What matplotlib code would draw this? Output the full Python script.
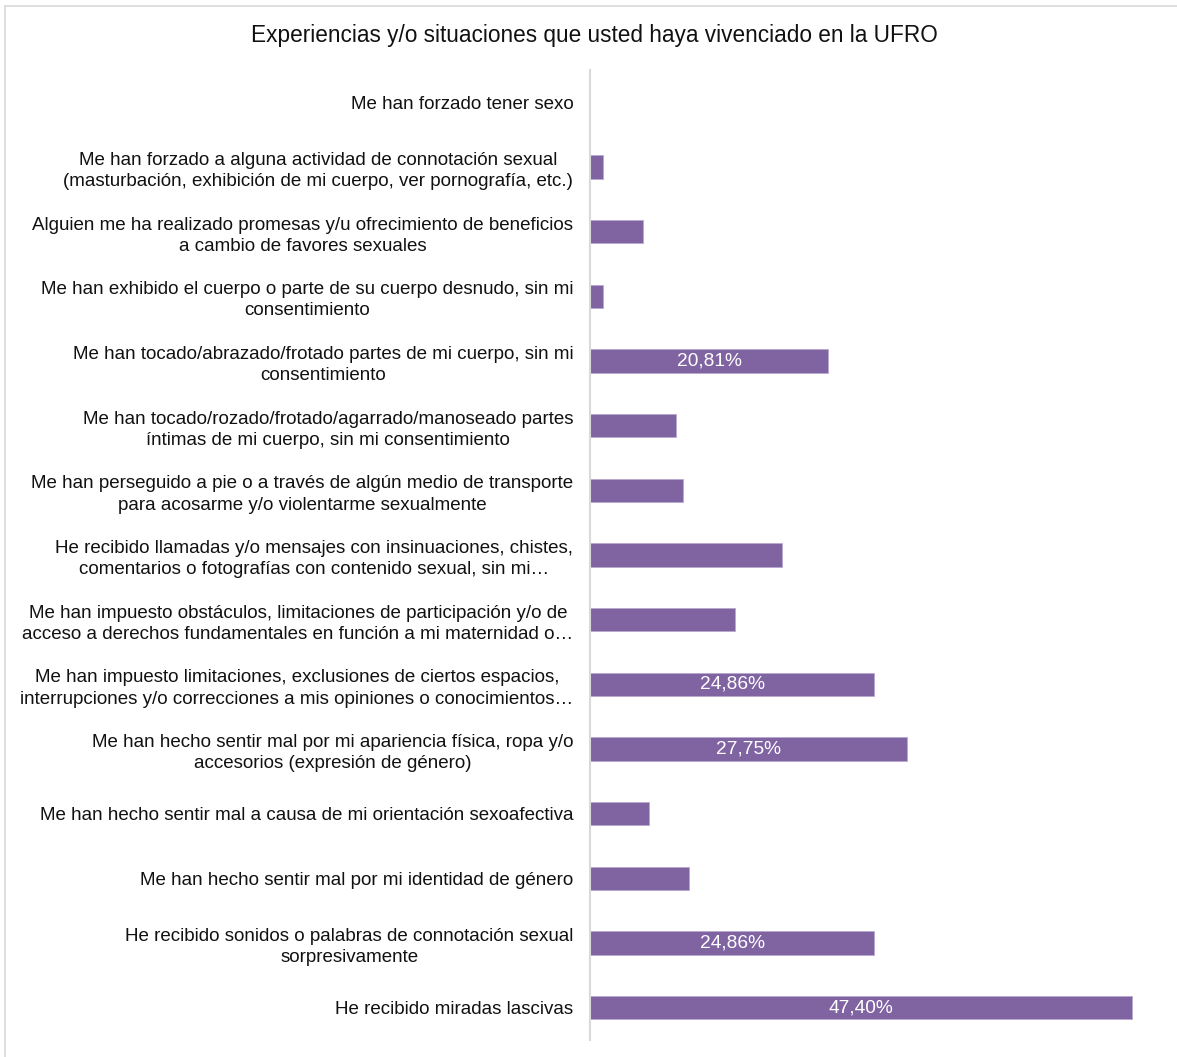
import matplotlib
matplotlib.use('Agg')
from matplotlib import pyplot as plt
from matplotlib.patches import Rectangle

# categories from top to bottom, percentage of respondents
categories = [
    "Me han forzado tener sexo",
    "Me han forzado a alguna actividad de connotación sexual\n(masturbación, exhibición de mi cuerpo, ver pornografía, etc.)",
    "Alguien me ha realizado promesas y/u ofrecimiento de beneficios\na cambio de favores sexuales",
    "Me han exhibido el cuerpo o parte de su cuerpo desnudo, sin mi\nconsentimiento",
    "Me han tocado/abrazado/frotado partes de mi cuerpo, sin mi\nconsentimiento",
    "Me han tocado/rozado/frotado/agarrado/manoseado partes\níntimas de mi cuerpo, sin mi consentimiento",
    "Me han perseguido a pie o a través de algún medio de transporte\npara acosarme y/o violentarme sexualmente",
    "He recibido llamadas y/o mensajes con insinuaciones, chistes,\ncomentarios o fotografías con contenido sexual, sin mi…",
    "Me han impuesto obstáculos, limitaciones de participación y/o de\nacceso a derechos fundamentales en función a mi maternidad o…",
    "Me han impuesto limitaciones, exclusiones de ciertos espacios,\ninterrupciones y/o correcciones a mis opiniones o conocimientos…",
    "Me han hecho sentir mal por mi apariencia física, ropa y/o\naccesorios (expresión de género)",
    "Me han hecho sentir mal a causa de mi orientación sexoafectiva",
    "Me han hecho sentir mal por mi identidad de género",
    "He recibido sonidos o palabras de connotación sexual\nsorpresivamente",
    "He recibido miradas lascivas",
]
values = [0.0, 1.16, 4.62, 1.16, 20.81, 7.51, 8.09, 16.76, 12.72,
          24.86, 27.75, 5.20, 8.67, 24.86, 47.40]
labelled = [4, 9, 10, 13, 14]  # bars that carry a value label

plt.rcParams['font.family'] = ['Liberation Sans', 'DejaVu Sans']

fig = plt.figure(figsize=(11.77, 10.57), dpi=100)
ax = fig.add_axes([0.5013, 0.016, 0.4857, 0.9178])

ypos = list(range(len(categories)))
ax.barh(ypos, values, height=0.36, color='#8064A2', edgecolor='#B9A7D0', linewidth=0.6)

for i in labelled:
    ax.text(values[i] / 2, ypos[i], ('%.2f%%' % values[i]).replace('.', ','),
            ha='center', va='center', color='white', fontsize=13.8)

ax.set_ylim(len(categories) - 0.5, -0.5)
ax.set_xlim(0, 50)
ax.set_yticks(ypos)
ax.set_yticklabels(categories, fontsize=13.5, color='#111111', multialignment='center',
                   linespacing=1.32)
ax.tick_params(axis='y', length=0, pad=12)
ax.set_xticks([])
for side in ['top', 'right', 'bottom']:
    ax.spines[side].set_visible(False)
ax.spines['left'].set_color('#D9D9D9')
ax.spines['left'].set_linewidth(1.5)

fig.text(0.5047, 0.966, 'Experiencias y/o situaciones que usted haya vivenciado en la UFRO',
         ha='center', va='center', fontsize=16.3, color='#111111')

# chart frame
fig.patches.append(Rectangle((5 / 1177, -0.01), 1.1, 1 - 6 / 1057 + 0.01,
                             transform=fig.transFigure, fill=False,
                             edgecolor='#D9D9D9', linewidth=1.2))

fig.savefig('out.png', dpi=100)
